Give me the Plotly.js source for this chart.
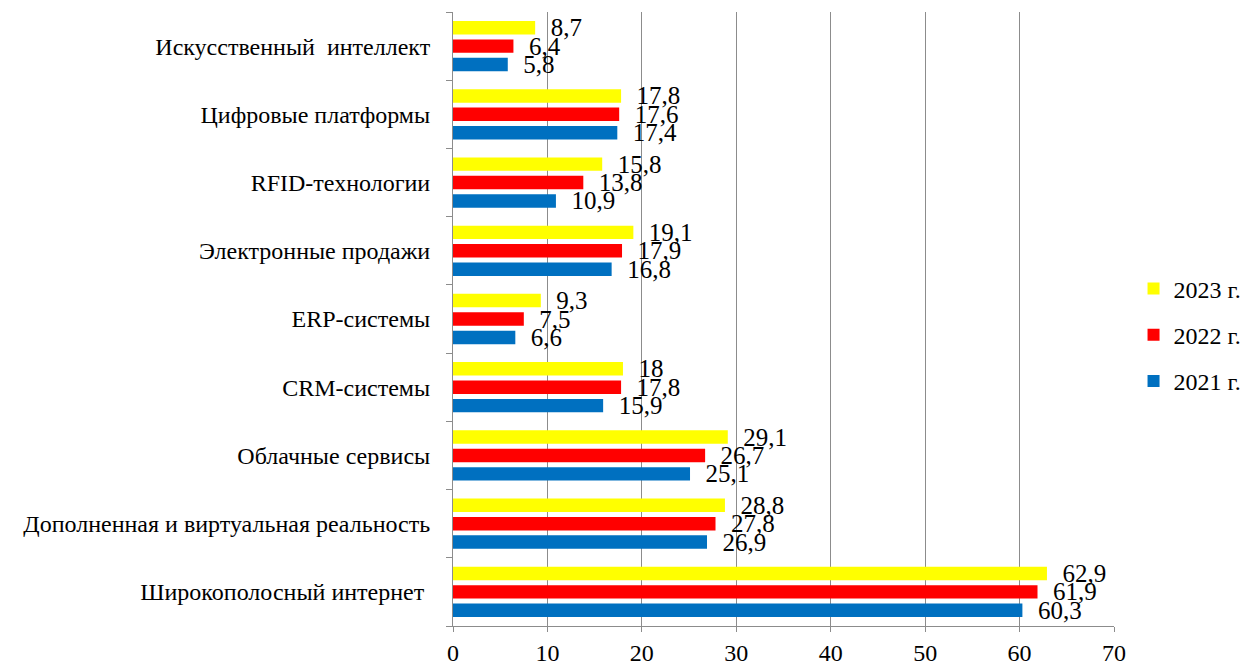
<!DOCTYPE html>
<html><head><meta charset="utf-8">
<script src="https://cdn.plot.ly/plotly-3.0.1.min.js"></script>
<style>body{margin:0;background:#fff}</style>
</head><body><div id="chart" style="width:1257px;height:664px"></div>
<script>
const categories = ['Широкополосный интернет ', 'Дополненная и виртуальная реальность', 'Облачные сервисы', 'CRM-системы', 'ERP-системы', 'Электронные продажи', 'RFID-технологии', 'Цифровые платформы', 'Искусственный  интеллект'];
const values2021 = [60.3, 26.9, 25.1, 15.9, 6.6, 16.8, 10.9, 17.4, 5.8];
const values2022 = [61.9, 27.8, 26.7, 17.8, 7.5, 17.9, 13.8, 17.6, 6.4];
const values2023 = [62.9, 28.8, 29.1, 18, 9.3, 19.1, 15.8, 17.8, 8.7];
const seriesNames = ['2021 г.', '2022 г.', '2023 г.'];
const seriesColors = ['#0070C0', '#FF0000', '#FFFF00'];
const xTicks = [0, 10, 20, 30, 40, 50, 60, 70];

const fmt = v => '  ' + String(v).replace('.', ',');
const allVals = [values2021, values2022, values2023];
const traces = allVals.map((vals, i) => ({
  type: 'bar', orientation: 'h', y: categories, x: vals,
  name: seriesNames[i], legendgroup: 'g' + i, legendrank: 3 - i,
  marker: {color: seriesColors[i]},
  text: vals.map(fmt), textposition: 'outside', constraintext: 'none',
  cliponaxis: false,
  textfont: {family: 'Liberation Serif', size: 25, color: '#000'},
  hoverinfo: 'x+y'
}));

const layout = {
  width: 1257, height: 664,
  margin: {l: 453, r: 142, t: 12, b: 38},
  paper_bgcolor: '#fff', plot_bgcolor: '#fff',
  barmode: 'group', bargap: 0.19, bargroupgap: 0.27,
  font: {family: 'Liberation Serif', size: 24, color: '#000'},
  xaxis: {
    range: [0, 70], tickvals: xTicks, showgrid: true, gridcolor: '#8c8c8c', gridwidth: 1,
    zeroline: false, showline: true, linecolor: '#8c8c8c', ticks: 'outside', ticklen: 5,
    tickcolor: '#8c8c8c', tickfont: {family: 'Liberation Serif', size: 24, color: '#000'}
  },
  yaxis: {
    type: 'category', showline: true, linecolor: '#8c8c8c', ticks: 'outside', ticklen: 6,
    tickcolor: '#8c8c8c', tickson: 'boundaries', showgrid: false, ticklabelstandoff: 17,
    tickfont: {family: 'Liberation Serif', size: 24, color: '#000'}
  },
  showlegend: true,
  legend: {
    x: 1.028, xanchor: 'left', y: 0.474, yanchor: 'middle',
    traceorder: 'grouped', tracegroupgap: 12,
    font: {family: 'Liberation Serif', size: 24, color: '#000'},
    itemwidth: 30
  }
};
Plotly.newPlot('chart', traces, layout, {displayModeBar: false});
</script></body></html>
